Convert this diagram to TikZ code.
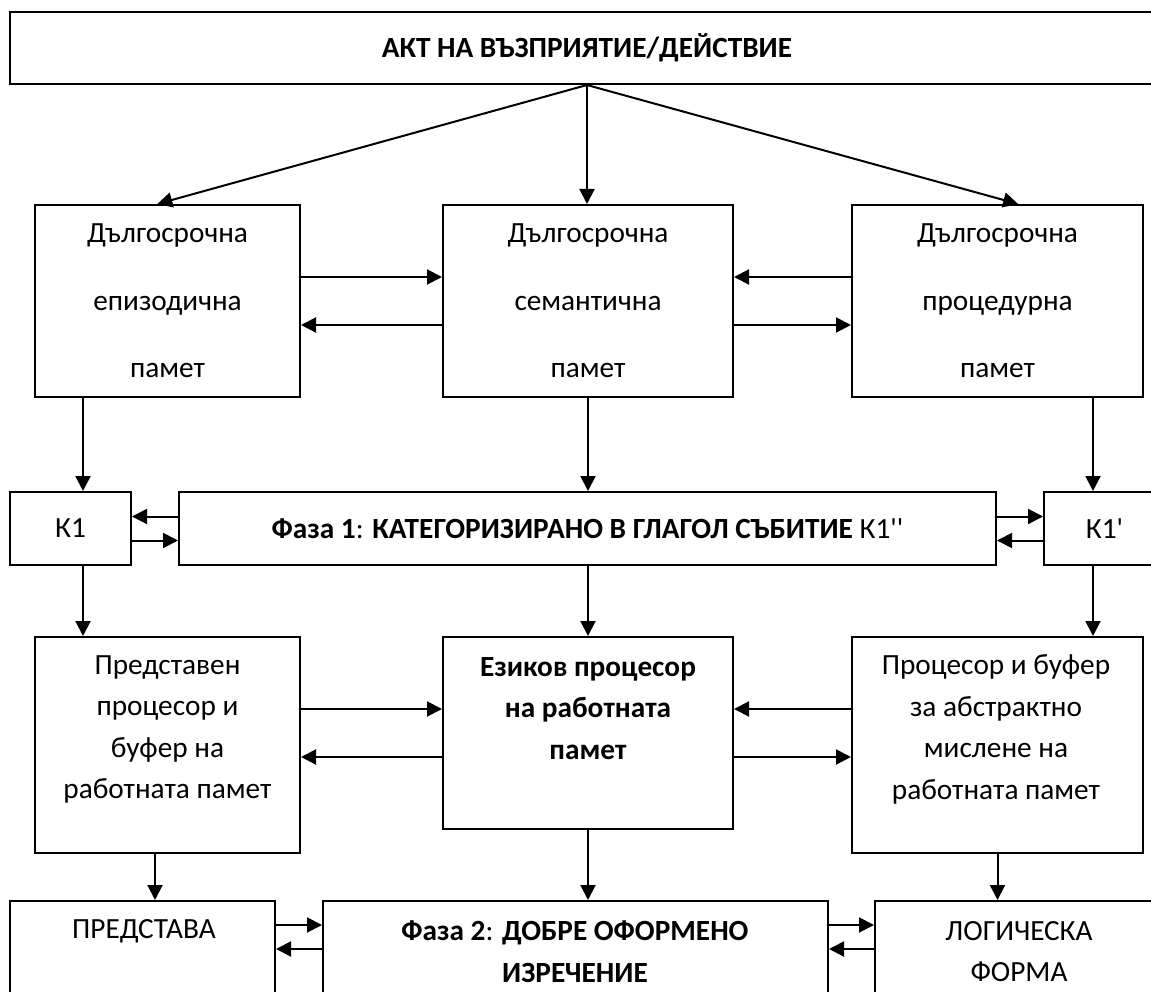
\documentclass[tikz,border=0pt]{standalone}
\usepackage{fontspec}
\setmainfont{Carlito}[Ligatures=TeXOff]
\usetikzlibrary{arrows.meta}

\begin{document}
\begin{tikzpicture}[x=1pt,y=-1pt,
		box/.style={draw,line width=2pt,inner sep=0pt},
		lbl/.style={align=center,inner sep=0pt,font=\fontsize{29.3}{41.5}\selectfont},
		arr/.style={line width=2pt,-{Triangle[length=15pt,width=15pt]}}]
			\useasboundingbox (0,0) rectangle (1151,992);
			\clip (0,0) rectangle (1151,992);
			\node[box,lbl,font=\fontsize{29.3}{35}\selectfont\bfseries,minimum width=1154pt,minimum height=72pt] (act) at (587,48) {АКТ НА ВЪЗПРИЯТИЕ/ДЕЙСТВИЕ};
			\node[box,lbl,font=\fontsize{29.3}{67.5}\selectfont,minimum width=265pt,minimum height=192pt] (epi) at (167.5,301) {Дългосрочна\\епизодична\\памет};
			\node[box,lbl,font=\fontsize{29.3}{67.5}\selectfont,minimum width=290pt,minimum height=192pt] (sem) at (588,301) {Дългосрочна\\семантична\\памет};
			\node[box,lbl,font=\fontsize{29.3}{67.5}\selectfont,minimum width=291pt,minimum height=192pt] (proc) at (997.5,301) {Дългосрочна\\процедурна\\памет};
			\node[box,lbl,minimum width=121pt,minimum height=73pt] (k1) at (70.5,528.5) {К1};
			\node[box,lbl,minimum width=817pt,minimum height=73pt] (ph1) at (587.5,528.5) {\textbf{Фаза 1}: \textbf{КАТЕГОРИЗИРАНО В ГЛАГОЛ СЪБИТИЕ} К1''};
			\node[box,lbl,minimum width=121pt,minimum height=73pt] (k1p) at (1104.5,528.5) {К1'};
			\node[box,minimum width=265pt,minimum height=216pt] (rep) at (167.5,745) {};
			\node[box,minimum width=290pt,minimum height=192pt] (lang) at (588,733) {};
			\node[box,minimum width=291pt,minimum height=216pt] (abs) at (997.5,745) {};
			\node[lbl] (repT) at (167.5,729.5) {Представен\\процесор и\\буфер на\\работната памет};
			\node[lbl,font=\fontsize{29.3}{41.5}\selectfont\bfseries] (langT) at (588,708.5) {Езиков процесор\\на работната\\памет};
			\node[lbl] (absT) at (996,729.5) {Процесор и буфер\\за абстрактно\\мислене на\\работната памет};
			\node[box,minimum width=265pt,minimum height=110pt] (pred) at (142.5,956) {};
			\node[box,minimum width=505pt,minimum height=110pt] (ph2) at (575.5,956) {};
			\node[box,minimum width=288pt,minimum height=110pt] (logic) at (1019,956) {};
			\node[lbl] (predT) at (144,931) {ПРЕДСТАВА};
			\node[lbl] (ph2T) at (575,951.5) {\textbf{Фаза 2}: \textbf{ДОБРЕ ОФОРМЕНО}\\\textbf{ИЗРЕЧЕНИЕ}};
			\node[lbl] (logicT) at (1019,951.5) {ЛОГИЧЕСКА\\ФОРМА};
			\coordinate (colL) at (83,0);
			\coordinate (colR) at (1093,0);
			\coordinate (colP) at (155,0);
			\draw[arr] (act.south) -- (epi.96);
			\draw[arr] (act.south) -- (act.south |- sem.north);
			\draw[arr] (act.south) -- (proc.78);
			\draw[arr] ([yshift=24pt]epi.east) -- ([yshift=24pt]sem.west);
			\draw[arr] ([yshift=-24pt]sem.west) -- ([yshift=-24pt]epi.east);
			\draw[arr] ([yshift=24pt]proc.west) -- ([yshift=24pt]sem.east);
			\draw[arr] ([yshift=-24pt]sem.east) -- ([yshift=-24pt]proc.west);
			\draw[arr] (epi.south -| colL) -- (k1.north -| colL);
			\draw[arr] (sem.south) -- (sem.south |- ph1.north);
			\draw[arr] (proc.south -| colR) -- (k1p.north -| colR);
			\draw[arr] ([yshift=12pt]ph1.west) -- ([yshift=12pt]k1.east);
			\draw[arr] ([yshift=-12pt]k1.east) -- ([yshift=-12pt]ph1.west);
			\draw[arr] ([yshift=12pt]ph1.east) -- ([yshift=12pt]k1p.west);
			\draw[arr] ([yshift=-12pt]k1p.west) -- ([yshift=-12pt]ph1.east);
			\draw[arr] (k1.south -| colL) -- (rep.north -| colL);
			\draw[arr] (ph1.south -| lang.north) -- (lang.north);
			\draw[arr] (k1p.south -| colR) -- (abs.north -| colR);
			\draw[arr] ([yshift=36pt]rep.east) -- ([yshift=24pt]lang.west);
			\draw[arr] ([yshift=-24pt]lang.west) -- ([yshift=-12pt]rep.east);
			\draw[arr] ([yshift=36pt]abs.west) -- ([yshift=24pt]lang.east);
			\draw[arr] ([yshift=-24pt]lang.east) -- ([yshift=-12pt]abs.west);
			\draw[arr] (rep.south -| colP) -- (pred.north -| colP);
			\draw[arr] (lang.south) -- (lang.south |- ph2.north);
			\draw[arr] (abs.south) -- (abs.south |- logic.north);
			\draw[arr] ([yshift=31pt]pred.east) -- ([yshift=31pt]ph2.west);
			\draw[arr] ([yshift=7pt]ph2.west) -- ([yshift=7pt]pred.east);
			\draw[arr] ([yshift=31pt]ph2.east) -- ([yshift=31pt]logic.west);
			\draw[arr] ([yshift=7pt]logic.west) -- ([yshift=7pt]ph2.east);
		\end{tikzpicture}
\end{document}
